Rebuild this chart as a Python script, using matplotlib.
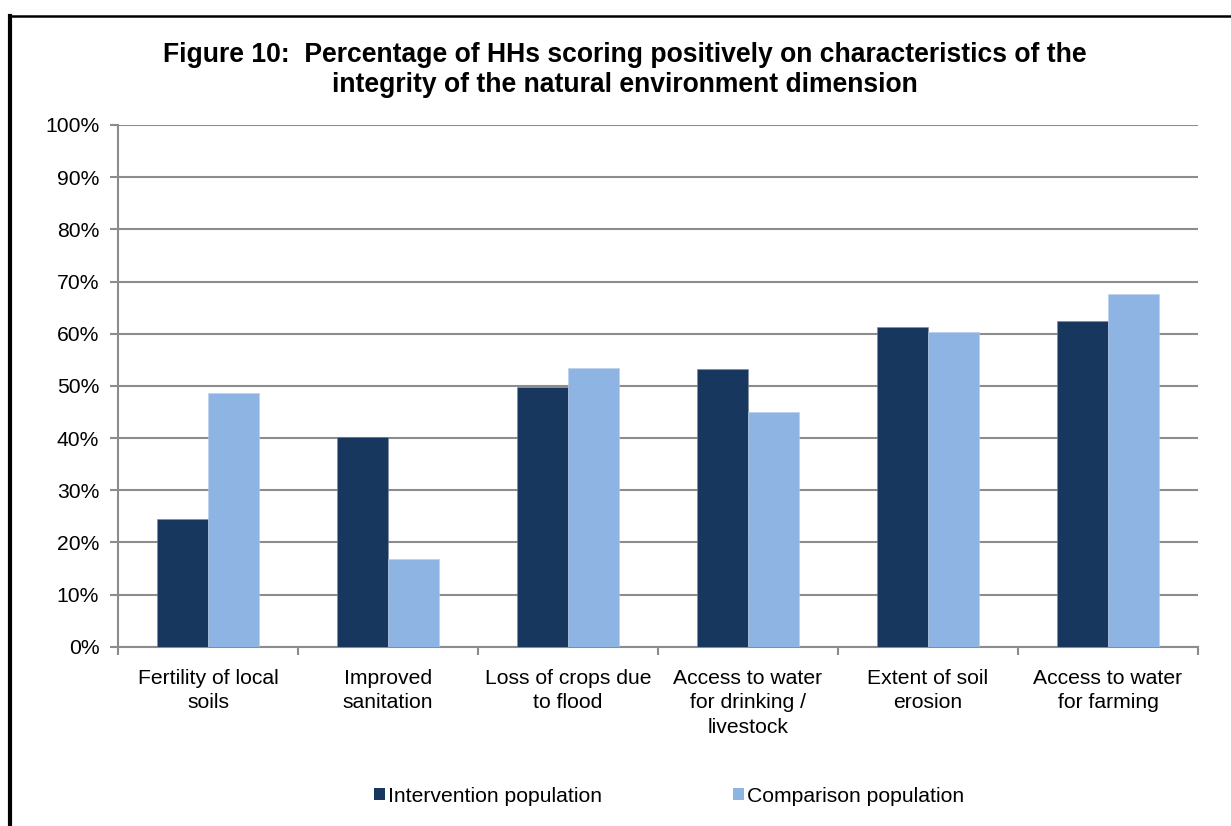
import matplotlib
matplotlib.use("Agg")
import matplotlib.pyplot as plt
import numpy as np
from matplotlib.lines import Line2D
from matplotlib.patches import Patch
from matplotlib.ticker import FuncFormatter, MultipleLocator
from matplotlib.transforms import blended_transform_factory

plt.rcParams['font.family'] = ['Liberation Sans', 'DejaVu Sans']

categories = [
    "Fertility of local\nsoils",
    "Improved\nsanitation",
    "Loss of crops due\nto flood",
    "Access to water\nfor drinking /\nlivestock",
    "Extent of soil\nerosion",
    "Access to water\nfor farming",
]
intervention = [24.4, 40.1, 49.7, 53.3, 61.3, 62.4]
comparison = [48.6, 16.9, 53.4, 44.9, 60.4, 67.7]
series_names = ["Intervention population", "Comparison population"]
colors = ["#17375E", "#8EB4E3"]
title_lines = [
    "Figure 10:  Percentage of HHs scoring positively on characteristics of the",
    "integrity of the natural environment dimension",
]

W, H = 1231, 826
FS = 15.2
fig = plt.figure(figsize=(W / 100, H / 100), dpi=100)
ax = fig.add_axes([118 / W, 1 - 646.7 / H, (1198 - 118) / W, (646.7 - 125) / H])

x = np.arange(len(categories))
bw = 2 / 7  # gap width of 150% between clusters
ax.bar(x - bw / 2, intervention, bw, color=colors[0], edgecolor="#7f8a99",
       linewidth=0.4, zorder=3)
ax.bar(x + bw / 2, comparison, bw, color=colors[1], edgecolor="#b7cdea",
       linewidth=0.4, zorder=3)

ax.set_xlim(-0.5, len(categories) - 0.5)
ax.set_ylim(0, 100)
ax.yaxis.set_major_locator(MultipleLocator(10))
ax.yaxis.set_major_formatter(FuncFormatter(lambda v, p: f"{v:.0f}%"))
ax.grid(axis="y", color="#8c8c8c", linewidth=1.5, zorder=0)
ax.set_axisbelow(True)

for s in ["top", "right"]:
    ax.spines[s].set_visible(False)
for s in ["left", "bottom"]:
    ax.spines[s].set_color("#8c8c8c")
    ax.spines[s].set_linewidth(1.5)

ax.tick_params(axis="y", length=6, width=1.5, color="#8c8c8c", labelsize=FS,
               pad=7.5, labelcolor="black")
ax.set_xticks(np.arange(-0.5, len(categories) + 0.5, 1))
ax.set_xticklabels([])
ax.tick_params(axis="x", length=6, width=1.5, color="#8c8c8c")

# category labels, one line at a time (x in data units, baseline in pixels)
xtrans = blended_transform_factory(ax.transData, fig.transFigure)
for i, lab in enumerate(categories):
    for k, line in enumerate(lab.split("\n")):
        fig.text(i, 1 - (684 + 24.5 * k) / H, line, ha="center", va="baseline",
                 fontsize=FS, transform=xtrans)

for k, line in enumerate(title_lines):
    fig.text(624.5 / W, 1 - (61.7 + 30.3 * k) / H, line, ha="center",
             va="baseline", fontsize=19.1, fontweight="bold")

handles = [Patch(facecolor=c, edgecolor="none") for c in colors]
fig.legend(handles, series_names, loc="center", bbox_to_anchor=(669 / W, 1 - 796 / H),
           ncol=2, frameon=False, fontsize=FS, handlelength=0.52, handleheight=0.52,
           handletextpad=0.14, columnspacing=6.2, borderaxespad=0, borderpad=0)

# outer frame (left and top edges)
fig.add_artist(Line2D([9.5 / W, 9.5 / W], [0, 1 - 15.5 / H], transform=fig.transFigure,
                      color="black", linewidth=3.0, solid_capstyle="projecting"))
fig.add_artist(Line2D([9.5 / W, 1], [1 - 15.5 / H, 1 - 15.5 / H], transform=fig.transFigure,
                      color="black", linewidth=1.8, solid_capstyle="projecting"))

fig.savefig("out.png", dpi=100)
